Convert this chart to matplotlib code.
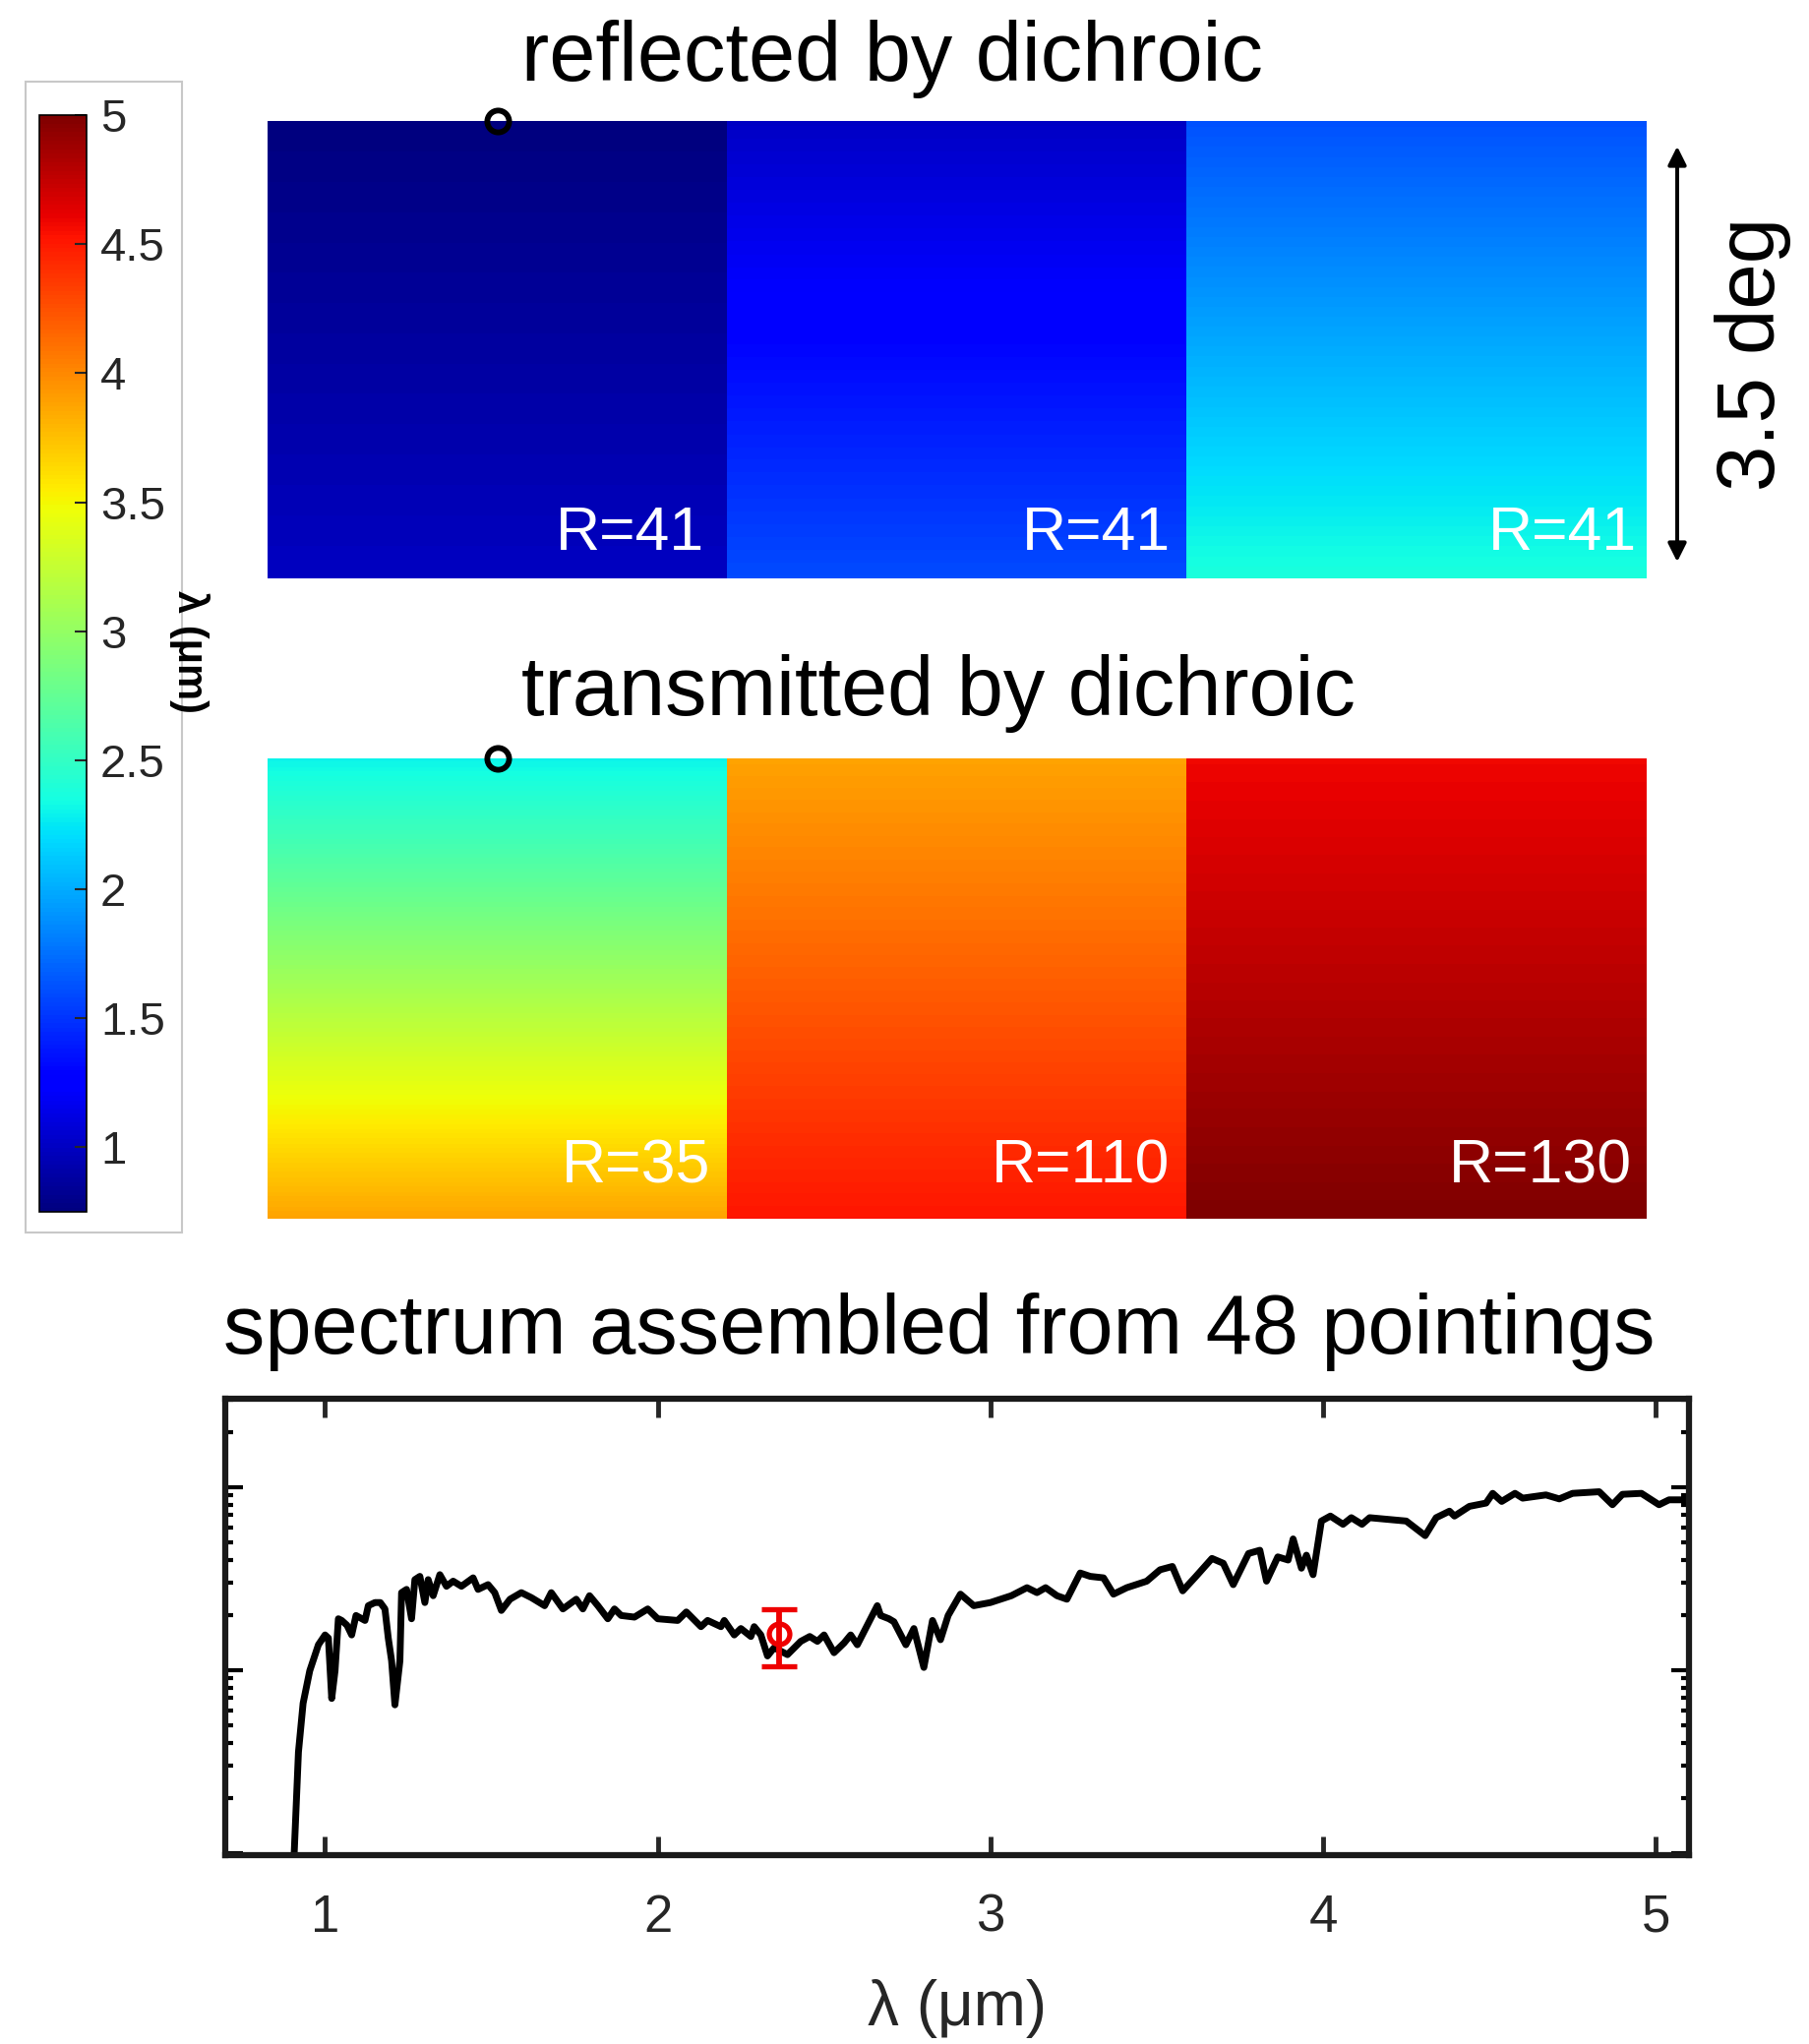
import numpy as np
import matplotlib
matplotlib.use("Agg")
import matplotlib.pyplot as plt
from matplotlib.patches import Rectangle, FancyArrowPatch
from matplotlib.colors import Normalize
from matplotlib.cm import ScalarMappable

plt.rcParams['font.family'] = ['Liberation Sans', 'DejaVu Sans']

# ---------------- data ----------------
cbar_ticks = [1, 1.5, 2, 2.5, 3, 3.5, 4, 4.5, 5]
cbar_ticklabels = ['1', '1.5', '2', '2.5', '3', '3.5', '4', '4.5', '5']
lam_min, lam_max = 0.75, 5.0

# wavelength (um) at top / bottom of each of the three filter segments
refl_top = [0.75, 1.01, 1.62]
refl_bottom = [1.00, 1.60, 2.38]
trans_top = [2.30, 3.88, 4.58]
trans_bottom = [3.88, 4.52, 5.00]
refl_R = ['R=41', 'R=41', 'R=41']
trans_R = ['R=35', 'R=110', 'R=130']

spec_lam = [0.905, 0.92, 0.934, 0.954, 0.98, 1.00, 1.01, 1.02, 1.03, 1.04, 1.05, 1.066,
            1.08, 1.093, 1.12, 1.13, 1.15, 1.166, 1.18, 1.19, 1.20, 1.21, 1.225, 1.23,
            1.245, 1.26, 1.27, 1.285, 1.30, 1.31, 1.325, 1.345, 1.365, 1.385, 1.41, 1.445,
            1.46, 1.49, 1.51, 1.53, 1.556, 1.59, 1.62, 1.66, 1.68, 1.715, 1.755, 1.775,
            1.795, 1.82, 1.85, 1.87, 1.89, 1.93, 1.97, 2.00, 2.06, 2.086, 2.13, 2.15,
            2.19, 2.20, 2.23, 2.25, 2.28, 2.29, 2.31, 2.33, 2.35, 2.39, 2.43, 2.457,
            2.48, 2.50, 2.53, 2.56, 2.58, 2.60, 2.66, 2.67, 2.695, 2.71, 2.746, 2.77,
            2.80, 2.826, 2.85, 2.873, 2.91, 2.95, 3.00, 3.063, 3.11, 3.14, 3.166, 3.20,
            3.23, 3.27, 3.30, 3.34, 3.37, 3.41, 3.47, 3.51, 3.547, 3.578, 3.618, 3.666,
            3.70, 3.73, 3.776, 3.81, 3.83, 3.864, 3.895, 3.91, 3.935, 3.95, 3.97, 3.995,
            4.022, 4.06, 4.085, 4.117, 4.14, 4.25, 4.307, 4.34, 4.38, 4.395, 4.44, 4.49,
            4.51, 4.537, 4.577, 4.60, 4.67, 4.71, 4.75, 4.83, 4.87, 4.90, 4.957, 5.01,
            5.04, 5.10]
spec_flux = [0.08, 0.355, 0.656, 0.988, 1.37, 1.55, 1.49, 0.697, 0.988, 1.90, 1.86, 1.75,
             1.55, 1.98, 1.86, 2.24, 2.33, 2.33, 2.15, 1.49, 1.12, 0.643, 1.12, 2.64,
             2.75, 1.90, 3.11, 3.24, 2.33, 3.11, 2.54, 3.31, 2.86, 3.05, 2.86, 3.18,
             2.75, 2.92, 2.64, 2.11, 2.43, 2.64, 2.48, 2.24, 2.64, 2.15, 2.43, 2.15,
             2.54, 2.24, 1.90, 2.15, 1.98, 1.94, 2.15, 1.90, 1.86, 2.07, 1.72, 1.86,
             1.72, 1.86, 1.55, 1.68, 1.52, 1.72, 1.55, 1.19, 1.32, 1.21, 1.43, 1.52,
             1.43, 1.55, 1.24, 1.40, 1.55, 1.37, 2.24, 1.98, 1.90, 1.83, 1.37, 1.68,
             1.03, 1.86, 1.46, 1.98, 2.59, 2.24, 2.33, 2.54, 2.81, 2.64, 2.81, 2.54,
             2.43, 3.38, 3.24, 3.18, 2.59, 2.81, 3.05, 3.52, 3.67, 2.70, 3.24, 4.06,
             3.82, 2.92, 4.32, 4.50, 3.05, 4.14, 3.98, 5.19, 3.59, 4.23, 3.31, 6.50,
             6.92, 6.24, 6.78, 6.24, 6.78, 6.50, 5.41, 6.78, 7.36, 6.92, 7.82, 8.15,
             9.21, 8.32, 9.21, 8.67, 9.03, 8.59, 9.21, 9.40, 7.98, 9.10, 9.21, 7.98,
             8.49, 8.49]

point_lam = [2.364]
point_flux = [1.58]
point_err_lo = [0.53]
point_err_hi = [0.55]

x_ticks = [1, 2, 3, 4, 5]

# ---------------- layout ----------------
W, H = 1839, 2078
fig = plt.figure(figsize=(W / 100, H / 100), dpi=100)


def rect(x0, y0, x1, y1):
    return [x0 / W, 1 - y1 / H, (x1 - x0) / W, (y1 - y0) / H]


def fx(x):
    return x / W


def fy(y):
    return 1 - y / H


cmap = plt.get_cmap('jet')
norm = Normalize(lam_min, lam_max)


def panel(r, tops, bottoms, labels, label_x, label_y):
    ax = fig.add_axes(r)
    n = 600
    img = np.empty((n, len(tops)))
    for j in range(len(tops)):
        img[:, j] = np.linspace(tops[j], bottoms[j], n)
    ax.imshow(img, cmap=cmap, norm=norm, aspect='auto', extent=(0, 3, 0, 1),
              origin='upper', interpolation='nearest')
    ax.set_xlim(0, 3)
    ax.set_ylim(0, 1)
    ax.axis('off')
    for j, lab in enumerate(labels):
        ax.text(label_x[j], label_y, lab, color='white', fontsize=45,
                ha='right', va='center')
    ax.plot([0.5], [1.0], 'o', mfc='none', mec='black', ms=16, mew=4.2,
            clip_on=False, zorder=5)
    return ax


panel(rect(272, 123, 1673, 588), refl_top, refl_bottom, refl_R,
      [0.95, 1.965, 2.98], 0.097)
panel(rect(272, 771, 1673, 1239), trans_top, trans_bottom, trans_R,
      [0.965, 1.965, 2.97], 0.113)

fig.text(fx(530), fy(60), 'reflected by dichroic', fontsize=61, ha='left', va='center')
fig.text(fx(530), fy(705), 'transmitted by dichroic', fontsize=61, ha='left', va='center')

# 3.5 deg arrow
fig.add_artist(FancyArrowPatch(
    (fx(1705), fy(146)), (fx(1705), fy(574)), transform=fig.transFigure,
    arrowstyle='<|-|>', mutation_scale=28, lw=2.8, color='black'))
fig.text(fx(1782), fy(360), '3.5 deg', fontsize=60, rotation=90, ha='center', va='center')

# colorbar with box
fig.add_artist(Rectangle((fx(26), fy(1253)), fx(185) - fx(26), fy(83) - fy(1253),
                         transform=fig.transFigure, fc='white', ec='#c8c8c8', lw=1.5,
                         zorder=0))
cax = fig.add_axes(rect(40, 117, 88, 1232))
cb = fig.colorbar(ScalarMappable(norm=norm, cmap=cmap), cax=cax, ticks=cbar_ticks)
cb.ax.set_yticklabels(cbar_ticklabels)
cb.ax.tick_params(direction='in', length=9, width=1.5, labelsize=34,
                  colors='#262626', pad=10)
cb.outline.set_linewidth(1.2)
fig.text(fx(193), fy(663), 'λ (μm)', fontsize=30, fontweight='bold', rotation=270,
         ha='center', va='center')

# spectrum
fig.text(fx(955), fy(1354), 'spectrum assembled from 48 pointings', fontsize=61,
         ha='center', va='center')
ax = fig.add_axes(rect(229, 1422, 1717, 1886))
ax.plot(spec_lam, spec_flux, color='black', lw=5, solid_joinstyle='round')
ax.errorbar(point_lam, point_flux, yerr=[point_err_lo, point_err_hi], fmt='o',
            mfc='none', mec='#ee0000', ecolor='#ee0000', ms=15, mew=3.8, lw=4.2,
            capsize=13, capthick=4.2, zorder=5)
ax.set_yscale('log')
ax.set_xlim(0.7, 5.1)
ax.set_ylim(0.097, 30.3)
ax.set_xticks(x_ticks)
ax.set_xticklabels([str(t) for t in x_ticks])
ax.tick_params(axis='x', which='both', direction='in', top=True, bottom=True,
               length=14, width=3.5, labelsize=38, colors='#262626', pad=28)
ax.tick_params(axis='y', which='major', direction='in', left=True, right=True,
               length=13, width=3, labelleft=False)
ax.tick_params(axis='y', which='minor', direction='in', left=True, right=True,
               length=6, width=3, labelleft=False)
ax.yaxis.set_minor_formatter(plt.NullFormatter())
for s in ax.spines.values():
    s.set_linewidth(4.5)
    s.set_color('#1a1a1a')
ax.set_xlabel('λ (μm)', fontsize=46, color='#262626', labelpad=27)

fig.savefig('out.png', dpi=100)
